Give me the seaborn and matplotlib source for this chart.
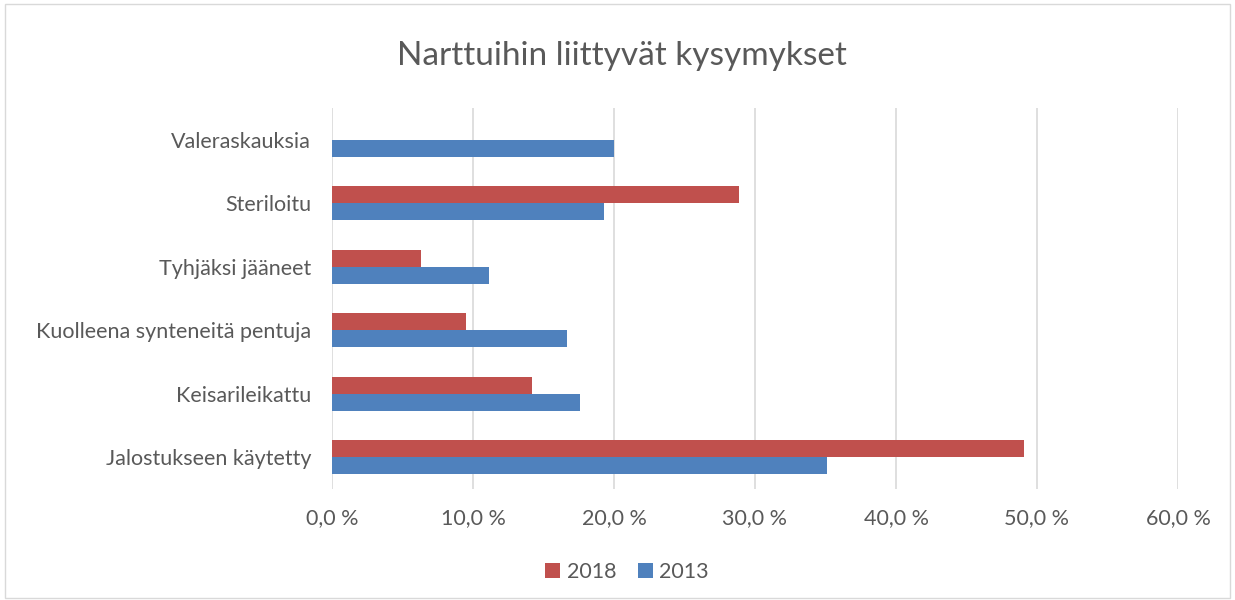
import pandas as pd
import matplotlib.pyplot as plt
import seaborn as sns
from matplotlib.ticker import FuncFormatter
from matplotlib.patches import Rectangle

kategoriat = ["Valeraskauksia", "Steriloitu", "Tyhjäksi jääneet",
              "Kuolleena synteneitä pentuja", "Keisarileikattu", "Jalostukseen käytetty"]
v2018 = [None, 28.9, 6.3, 9.5, 14.2, 49.1]
v2013 = [20.0, 19.3, 11.1, 16.7, 17.6, 35.1]

df = pd.DataFrame({
    "kategoria": kategoriat * 2,
    "vuosi": ["2018"] * 6 + ["2013"] * 6,
    "arvo": v2018 + v2013,
})

sns.set_style("white")
plt.rcParams['font.family'] = ['Lato', 'DejaVu Sans']
harmaa = "#595959"

fig = plt.figure(figsize=(12.35, 6), dpi=100)
ax = fig.add_axes([332 / 1235, 1 - 489 / 600, (1178 - 332) / 1235, (489 - 108) / 600])

sns.barplot(data=df, y="kategoria", x="arvo", hue="vuosi", order=kategoriat,
            hue_order=["2018", "2013"], palette=["#C0504D", "#4F81BD"], saturation=1,
            width=0.54, orient="h", ax=ax, legend=True, linewidth=0)

ax.set_xlim(0, 60)
ax.set_xticks(range(0, 61, 10))
ax.xaxis.set_major_formatter(FuncFormatter(lambda v, p: f"{v:.1f} %".replace(".", ",")))
ax.grid(axis="x", color="#D9D9D9", linewidth=1.2)
ax.set_axisbelow(True)
for s in ax.spines.values():
    s.set_visible(False)
ax.tick_params(axis="y", length=0, pad=15, labelsize=15.5, labelcolor=harmaa)
ax.tick_params(axis="x", length=0, pad=14, labelsize=15.5, labelcolor=harmaa)
ax.set_xlabel("")
ax.set_ylabel("")

h, l = ax.get_legend_handles_labels()
ax.legend(h, l, loc="center", bbox_to_anchor=((627 - 332) / 846, (489 - 572) / 381),
          ncol=2, frameon=False, fontsize=15.5, labelcolor=harmaa,
          handlelength=0.7, handleheight=0.7, handletextpad=0.3, columnspacing=1.0)

fig.text(622 / 1235, 1 - 56 / 600, "Narttuihin liittyvät kysymykset", ha="center", va="center",
         fontsize=24, color=harmaa)
fig.patches.append(Rectangle((0.004, 0.004), 0.992, 0.99, transform=fig.transFigure,
                             fill=False, edgecolor="#D9D9D9", linewidth=1))

fig.savefig("out.png", dpi=100)
